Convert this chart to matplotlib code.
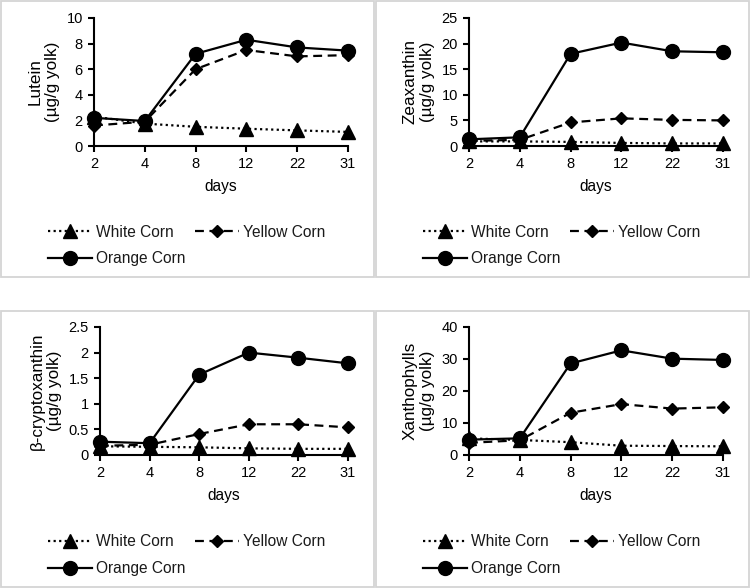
import numpy as np
import matplotlib.pyplot as plt
from matplotlib.patches import Rectangle

plt.rcParams["font.family"] = ["Liberation Sans", "DejaVu Sans"]
plt.rcParams["font.size"] = 10.5
plt.rcParams["text.color"] = "#1a1a1a"

days = ["2", "4", "8", "12", "22", "31"]
series_names = ["White Corn", "Yellow Corn", "Orange Corn"]

lutein_white = [2.3, 1.75, 1.5, 1.35, 1.22, 1.1]
lutein_yellow = [1.6, 1.9, 6.0, 7.5, 7.0, 7.1]
lutein_orange = [2.2, 1.95, 7.2, 8.3, 7.7, 7.45]

zea_white = [0.9, 0.9, 0.8, 0.6, 0.5, 0.5]
zea_yellow = [1.0, 1.2, 4.6, 5.4, 5.1, 5.0]
zea_orange = [1.3, 1.7, 18.0, 20.2, 18.5, 18.3]

bcx_white = [0.17, 0.16, 0.15, 0.13, 0.12, 0.12]
bcx_yellow = [0.18, 0.2, 0.41, 0.6, 0.6, 0.54]
bcx_orange = [0.26, 0.23, 1.57, 2.0, 1.9, 1.79]

xan_white = [5.2, 4.7, 4.0, 2.9, 2.8, 2.7]
xan_yellow = [3.8, 4.6, 13.2, 15.9, 14.5, 14.9]
xan_orange = [4.8, 5.2, 28.6, 32.7, 30.1, 29.7]

panels = [
    ("Lutein", (lutein_white, lutein_yellow, lutein_orange), 10, 2, [0.1253, 0.7517, 0.3387, 0.2177], (0.064, 0.618)),
    ("Zeaxanthin", (zea_white, zea_yellow, zea_orange), 25, 5, [0.6253, 0.7517, 0.3387, 0.2177], (0.564, 0.618)),
    ("β-cryptoxanthin", (bcx_white, bcx_yellow, bcx_orange), 2.5, 0.5, [0.1333, 0.2262, 0.3307, 0.2177], (0.064, 0.091)),
    ("Xanthophylls", (xan_white, xan_yellow, xan_orange), 40, 10, [0.6253, 0.2262, 0.3387, 0.2177], (0.564, 0.091)),
]

styles = [
    dict(linestyle=(0, (1, 1.5)), marker="^", markersize=10),
    dict(linestyle=(0, (4, 2.5)), marker="D", markersize=6),
    dict(linestyle="-", marker="o", markersize=10),
]

fig = plt.figure(figsize=(7.5, 5.88), dpi=100)

# light grey frames around each panel
for x0, y0 in [(0.0, 1 - 278 / 588), (375 / 750, 1 - 278 / 588), (0.0, 0.0), (375 / 750, 0.0)]:
    fig.patches.append(Rectangle((x0 + 0.001, y0 + 0.001), 0.498, 278 / 588 - 0.002,
                                 transform=fig.transFigure, fill=False,
                                 edgecolor="#d4d4d4", linewidth=1.3))

x = np.arange(len(days))
for name, values, ymax, step, pos, leg_xy in panels:
    ax = fig.add_axes(pos)
    lines = []
    for vals, lab, st in zip(values, series_names, styles):
        ln, = ax.plot(x, vals, color="black", linewidth=1.6, label=lab,
                      clip_on=False, zorder=3, **st)
        lines.append(ln)
    ax.set_xlim(0, len(days) - 1)
    ax.set_ylim(0, ymax)
    ax.set_xticks(x)
    ax.set_xticklabels(days)
    yt = np.arange(0, ymax + step / 2, step)
    ax.set_yticks(yt)
    ax.set_yticklabels([f"{v:g}" for v in yt])
    ax.spines["top"].set_visible(False)
    ax.spines["right"].set_visible(False)
    ax.spines["left"].set_linewidth(1.5)
    ax.spines["bottom"].set_linewidth(1.5)
    ax.tick_params(direction="out", length=4, width=1.5, pad=4, labelsize=10.5)
    ax.set_xlabel("days", labelpad=6, fontsize=11.2)
    ax.set_ylabel(f"{name}\n(µg/g yolk)", labelpad=5, linespacing=1.15, fontsize=12.3)
    # legend order so that rows read White, Yellow / Orange
    order = [0, 2, 1]
    ax.legend([lines[i] for i in order], [series_names[i] for i in order],
              loc="upper left", bbox_to_anchor=leg_xy, bbox_transform=fig.transFigure,
              ncol=2, frameon=False, handlelength=2.8, handletextpad=0.3,
              columnspacing=0.6, labelspacing=0.75, borderpad=0, borderaxespad=0,
              fontsize=11.2)

fig.savefig("out.png", dpi=100)
